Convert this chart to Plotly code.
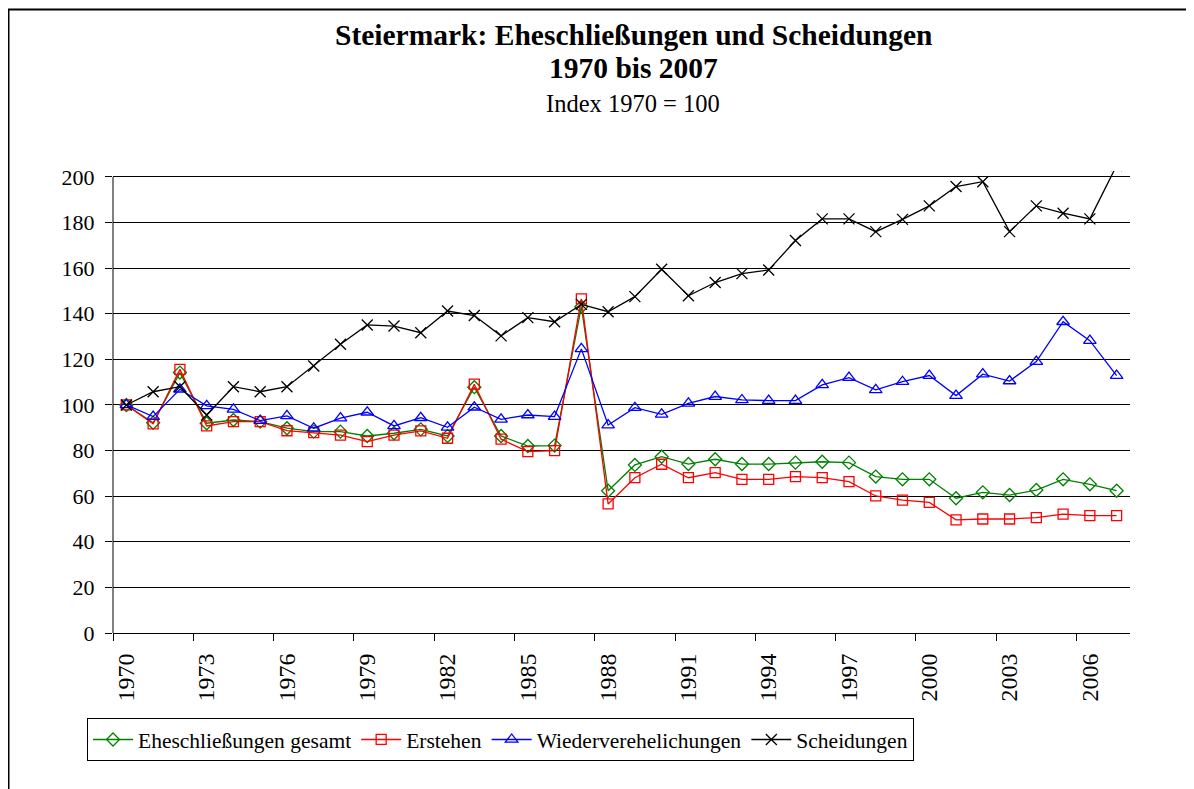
import plotly.graph_objects as go

# years 1970..2007 (category axis)
years = [str(y) for y in range(1970, 2008)]

gesamt = [100, 92.2, 114.2, 92.0, 93.4, 92.7, 89.8, 88.3, 88.3, 86.4,
          87.6, 89.3, 86.4, 107.8, 86.4, 82.0, 82.2, 143.1, 62.4, 73.7,
          77.3, 74.1, 76.2, 74.1, 74.1, 74.7, 75.1, 74.7, 68.6, 67.4,
          67.4, 59.1, 61.7, 60.5, 62.7, 67.4, 65.2, 62.4]

erstehen = [100, 91.7, 115.6, 90.8, 92.7, 92.7, 88.7, 87.9, 86.8, 83.9,
            86.8, 88.6, 85.4, 109.1, 85.0, 79.5, 80.0, 146.5, 56.6, 68.1,
            74.0, 68.1, 70.3, 67.4, 67.4, 68.6, 68.1, 66.4, 60.1, 58.3,
            57.3, 49.6, 50.0, 50.0, 50.6, 52.1, 51.5, 51.5]

wieder = [100, 94.9, 106.9, 99.6, 98.1, 93.1, 95.2, 89.8, 94.2, 96.8,
          90.8, 94.4, 90.2, 99.0, 93.7, 95.6, 94.9, 124.6, 91.2, 98.8,
          95.9, 100.7, 103.7, 102.2, 101.9, 101.9, 108.8, 112.0, 106.6, 110.2,
          112.9, 104.1, 113.5, 110.5, 119.0, 136.5, 128.2, 112.9]

scheidungen = [100, 105.8, 108.0, 95.6, 108.0, 105.8, 108.0, 117.1, 126.6, 135.1,
               134.6, 131.7, 141.2, 139.2, 130.3, 138.3, 136.5, 144.1, 140.9, 147.5,
               159.5, 147.9, 153.7, 157.6, 159.2, 172.1, 181.6, 181.6, 176.0, 181.4,
               187.3, 195.8, 197.9, 176.0, 187.3, 184.1, 181.6, 205.0]

series = [
    ("Eheschließungen gesamt", gesamt, "#008000", "diamond-open", 10),
    ("Erstehen", erstehen, "#FF0000", "square-open", 10),
    ("Wiederverehelichungen", wieder, "#0000FF", "triangle-up-open", 11),
    ("Scheidungen", scheidungen, "#000000", "x-thin-open", 11),
]

FONT = "Liberation Serif, Times New Roman, serif"

fig = go.Figure()
for name, vals, col, sym, sz in series:
    fig.add_trace(go.Scatter(
        x=years, y=vals, name=name, mode="lines+markers",
        line=dict(color=col, width=1.3),
        marker=dict(symbol=sym, size=sz, color=col,
                    line=dict(color=col, width=1.3)),
    ))

# page has an 8px body margin, so the figure itself starts at (8, 8)
# plot area on the page: x 113..1130, y 171..633
PL, PT, PB = 105, 163, 625   # figure coords
PH = PB - PT


def py(pix):
    # page pixel y -> paper y
    return (633 - pix) / PH


def px(pix):
    return (pix - 113) / 1017


fig.update_layout(
    width=1194, height=789,
    margin=dict(l=PL, r=1194 - 1122, t=PT, b=789 - PB),
    paper_bgcolor="white", plot_bgcolor="white",
    font=dict(family=FONT, color="black"),
    showlegend=True,
    legend=dict(
        orientation="h", x=px(87), y=py(718), xanchor="left", yanchor="top",
        bordercolor="black", borderwidth=1, font=dict(size=21.5, family=FONT),
        itemwidth=40,
    ),
    xaxis=dict(
        type="category", tickson="boundaries", dtick=3,
        range=[-0.5, len(years) - 0.5],
        tickangle=-90, tickfont=dict(size=24, family=FONT),
        ticks="outside", ticklen=7, tickcolor="black",
        ticklabelstandoff=10,
        showline=True, linecolor="black", linewidth=1,
        showgrid=False, zeroline=False,
    ),
    yaxis=dict(
        range=[0, 202.6], tickvals=list(range(0, 201, 20)),
        tickfont=dict(size=22, family=FONT),
        ticks="outside", ticklen=7, tickcolor="black",
        ticklabelstandoff=6,
        showline=False, showgrid=True, gridcolor="black", gridwidth=1,
        zeroline=False,
    ),
    annotations=[
        dict(text="<b>Steiermark: Eheschließungen und Scheidungen</b>", x=px(633), y=py(35),
             xref="paper", yref="paper", showarrow=False, font=dict(size=29.5, family=FONT),
             xanchor="center", yanchor="middle"),
        dict(text="<b>1970 bis 2007</b>", x=px(633), y=py(68),
             xref="paper", yref="paper", showarrow=False, font=dict(size=29.5, family=FONT),
             xanchor="center", yanchor="middle"),
        dict(text="Index 1970 = 100", x=px(633), y=py(104),
             xref="paper", yref="paper", showarrow=False, font=dict(size=24.5, family=FONT),
             xanchor="center", yanchor="middle"),
    ],
    shapes=[
        # y axis line from 0 to 200
        dict(type="line", xref="paper", yref="y", x0=0, x1=0, y0=0, y1=200,
             line=dict(color="black", width=1)),
        # chart area frame (top edge kept just inside the figure)
        dict(type="rect", xref="paper", yref="paper",
             x0=px(8.5), x1=1.2, y0=-0.5, y1=py(9.5),
             line=dict(color="black", width=2), layer="below"),
    ],
)

fig.write_html("out.html")
